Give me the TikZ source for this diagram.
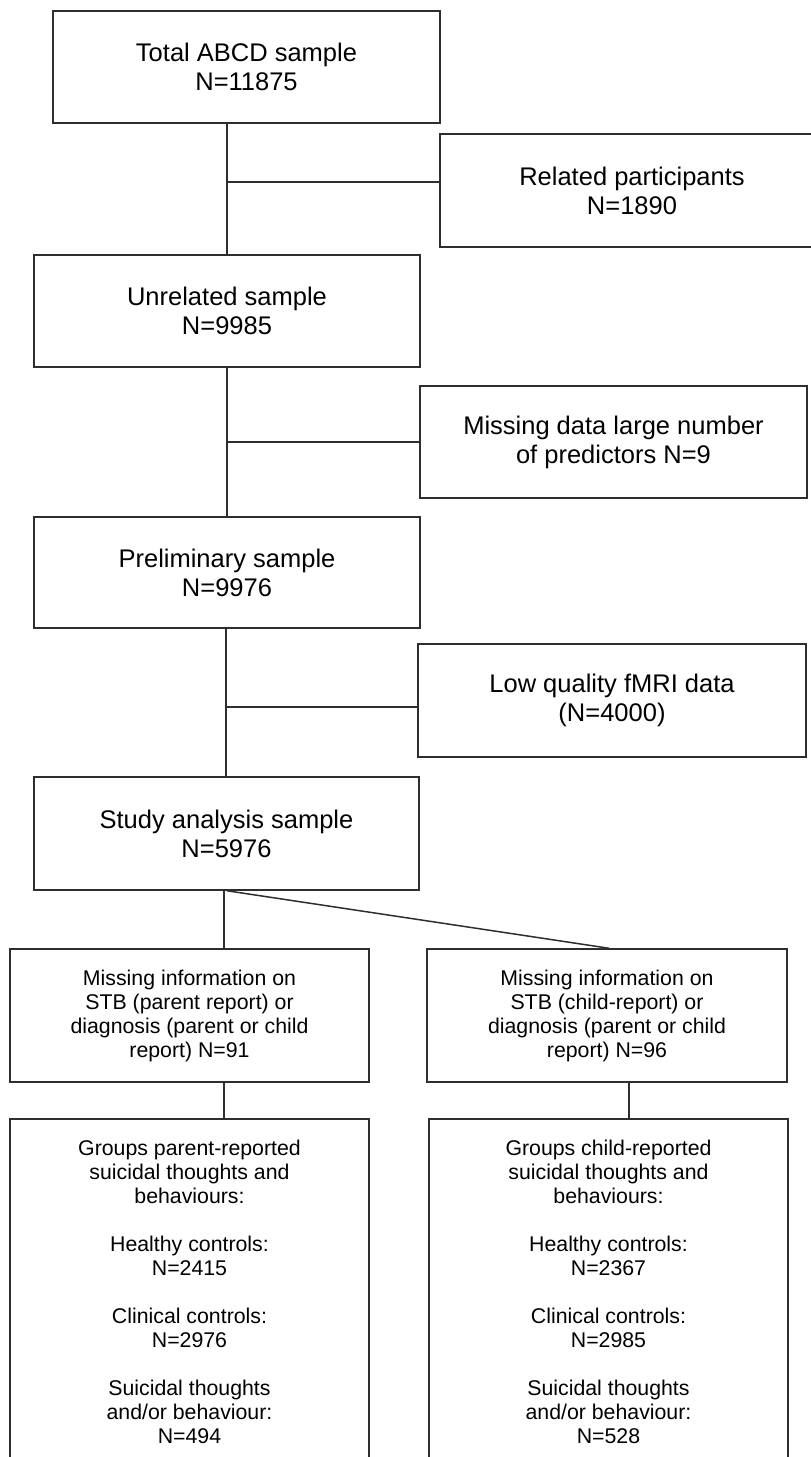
\documentclass[tikz,border=0pt]{standalone}
\usepackage{fontspec}
\setmainfont{Liberation Sans}
\begin{document}
\begin{tikzpicture}[x=1pt,y=-1pt,
  box/.style={draw=black!82,line width=1.5pt,inner sep=0pt,align=center,fill=white},
  bigbox/.style={box,font=\fontsize{25.5}{29}\selectfont},
  smallbox/.style={box,font=\fontsize{21.3}{24}\selectfont},
  link/.style={draw=black!82,line width=1.5pt}]
\useasboundingbox (0,0) rectangle (811,1457);
\clip (0,0) rectangle (811,1457);
% boxes
\node[bigbox,minimum width=387pt,minimum height=112pt] (total) at (246.5,67) {Total ABCD sample\\N=11875};
\node[bigbox,minimum width=384pt,minimum height=113pt] (related) at (632,190.5) {Related participants\\N=1890};
\node[bigbox,minimum width=386pt,minimum height=112pt] (unrel) at (227,311) {Unrelated sample\\N=9985};
\node[bigbox,minimum width=387pt,minimum height=112pt] (missing) at (613.5,442) {Missing data large number\\of predictors N=9};
\node[bigbox,minimum width=386pt,minimum height=111pt] (prelim) at (227,572.5) {Preliminary sample\\N=9976};
\node[bigbox,minimum width=388pt,minimum height=113pt] (lowq) at (612,700.5) {Low quality fMRI data\\(N=4000)};
\node[bigbox,minimum width=385pt,minimum height=113pt] (study) at (226.5,833.5) {Study analysis sample\\N=5976};
\node[smallbox,minimum width=359pt,minimum height=133pt] (lmiss) at (189.5,1015.5) {Missing information on\\STB (parent report) or\\diagnosis (parent or child\\report) N=91};
\node[smallbox,minimum width=360pt,minimum height=133pt] (rmiss) at (607,1015.5) {Missing information on\\STB (child-report) or\\diagnosis (parent or child\\report) N=96};
\node[smallbox,minimum width=359pt,minimum height=346pt] (lgroup) at (189.5,1292) {Groups parent-reported\\suicidal thoughts and\\behaviours:\\[24pt]Healthy controls:\\N=2415\\[24pt]Clinical controls:\\N=2976\\[24pt]Suicidal thoughts\\and/or behaviour:\\N=494};
\node[smallbox,minimum width=359pt,minimum height=346pt] (rgroup) at (608.5,1292) {Groups child-reported\\suicidal thoughts and\\behaviours:\\[24pt]Healthy controls:\\N=2367\\[24pt]Clinical controls:\\N=2985\\[24pt]Suicidal thoughts\\and/or behaviour:\\N=528};
% junction points
\coordinate (j1) at (227,182);
\coordinate (j2) at (227,442);
\coordinate (j3) at (226,707);
\coordinate (s1) at (224,0);
\coordinate (s2) at (227,0);
\coordinate (r1) at (609,0);
\coordinate (r2) at (629,0);
% connectors
\draw[link] (unrel.north |- total.south) -- (unrel.north);
\draw[link] (j1) -- (j1 -| related.west);
\draw[link] (unrel.south) -- (prelim.north);
\draw[link] (j2) -- (missing.west);
\draw[link] (j3 |- prelim.south) -- (j3 |- study.north);
\draw[link] (j3) -- (j3 -| lowq.west);
\draw[link] (s1 |- study.south) -- (s1 |- lmiss.north);
\draw[link] (s2 |- study.south) -- (r1 |- rmiss.north);
\draw[link] (s1 |- lmiss.south) -- (s1 |- lgroup.north);
\draw[link] (r2 |- rmiss.south) -- (r2 |- rgroup.north);
\end{tikzpicture}
\end{document}
